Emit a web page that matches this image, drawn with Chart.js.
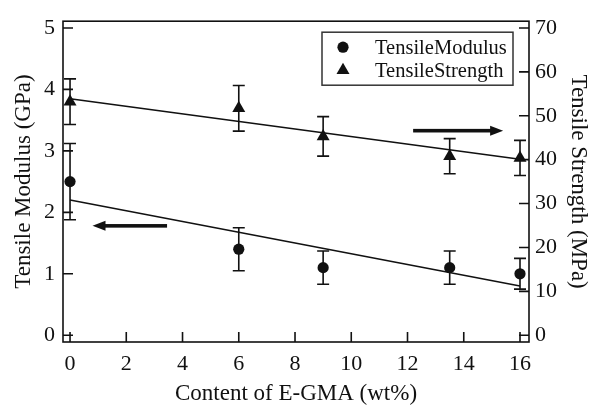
<!DOCTYPE html>
<html>
<head>
<meta charset="utf-8">
<script src="https://cdn.jsdelivr.net/npm/chart.js@4/dist/chart.umd.min.js"></script>
<style>
  html, body { margin: 0; padding: 0; background: #fff; }
  #chart { display: block; }
</style>
</head>
<body>
<canvas id="chart" width="590" height="405"></canvas>
<script>
// DATA

const egma = [0, 6, 9, 13.5, 16];                   // wt%
const modulus = [2.5, 1.4, 1.1, 1.1, 1.0];          // GPa
const modulusErr = [0.62, 0.35, 0.27, 0.27, 0.25];
const strength = [53.2, 51.7, 45.3, 40.8, 40.4];    // MPa
const strengthErr = [5.2, 5.2, 4.5, 4.0, 4.0];

const fitX = [0, 16];
const modulusFit = [2.2, 0.8];
const strengthFit = [53.9, 40.1];

const xTicks = [0, 2, 4, 6, 8, 10, 12, 14, 16];
const leftTicks = [0, 1, 2, 3, 4, 5];
const rightTicks = [0, 10, 20, 30, 40, 50, 60, 70];

// arrows pointing at the axis each series belongs to: [x0, x1, y]
const arrowLeft = [3.45, 0.8, 1.78];    // on GPa axis
const arrowRight = [12.2, 15.4, 46.6];  // on MPa axis


// STYLE

const INK = '#111';
const SERIF = "'Liberation Serif', 'Times New Roman', serif";
const tickFont = { family: SERIF, size: 22 };
const titleFont = { family: SERIF, size: 23, lineHeight: 1.2 };

const yRange = [-0.11, 5.11];
const MPA_PER_GPA = 14;

const pts = (xs, ys) => xs.map((x, i) => ({ x, y: ys[i] }));
const fixTicks = (vals) => (scale) => { scale.ticks = vals.map(v => ({ value: v })); };
const noGrid = { display: false, drawTicks: false };


// PLUGINS

const errorBars = {
    id: 'errorBars',
    beforeDatasetsDraw(chart) {
        const { ctx } = chart;
        const xs = chart.scales.x;
        ctx.save();
        ctx.strokeStyle = INK;
        ctx.lineWidth = 1.6;
        chart.data.datasets.forEach(ds => {
            if (!ds.errors) return;
            const ys = chart.scales[ds.yAxisID];
            ds.data.forEach((p, i) => {
                const px = xs.getPixelForValue(p.x);
                const top = ys.getPixelForValue(p.y + ds.errors[i]);
                const bot = ys.getPixelForValue(p.y - ds.errors[i]);
                ctx.beginPath();
                ctx.moveTo(px, top); ctx.lineTo(px, bot);
                ctx.moveTo(px - 6, top); ctx.lineTo(px + 6, top);
                ctx.moveTo(px - 6, bot); ctx.lineTo(px + 6, bot);
                ctx.stroke();
            });
        });
        ctx.restore();
    }
};

const frame = {
    id: 'frame',
    afterDraw(chart) {
        const { ctx, chartArea: a, scales } = chart;
        ctx.save();
        ctx.strokeStyle = INK;
        ctx.lineWidth = 1.6;
        ctx.strokeRect(a.left, a.top, a.right - a.left, a.bottom - a.top);

        // inward tick marks
        ctx.beginPath();
        xTicks.forEach(v => {
            const px = scales.x.getPixelForValue(v);
            ctx.moveTo(px, a.bottom); ctx.lineTo(px, a.bottom - 10);
        });
        leftTicks.forEach(v => {
            const py = scales.y.getPixelForValue(v);
            ctx.moveTo(a.left, py); ctx.lineTo(a.left + 10, py);
        });
        rightTicks.forEach(v => {
            const py = scales.y2.getPixelForValue(v);
            ctx.moveTo(a.right, py); ctx.lineTo(a.right - 10, py);
        });
        ctx.stroke();

        // arrows
        const arrow = (spec, axis) => {
            const x0 = scales.x.getPixelForValue(spec[0]);
            const x1 = scales.x.getPixelForValue(spec[1]);
            const y = scales[axis].getPixelForValue(spec[2]);
            const dir = Math.sign(x1 - x0);
            ctx.fillStyle = INK;
            ctx.fillRect(Math.min(x0, x1 - dir * 10), y - 1.8, Math.abs(x1 - dir * 10 - x0), 3.6);
            ctx.beginPath();
            ctx.moveTo(x1, y);
            ctx.lineTo(x1 - dir * 13, y - 5);
            ctx.lineTo(x1 - dir * 13, y + 5);
            ctx.closePath();
            ctx.fill();
        };
        arrow(arrowLeft, 'y');
        arrow(arrowRight, 'y2');

        // legend box
        const bx = a.left + 259, by = a.top + 11, bw = 191, bh = 53;
        ctx.fillStyle = '#fff';
        ctx.fillRect(bx, by, bw, bh);
        ctx.strokeStyle = '#333';
        ctx.lineWidth = 1.5;
        ctx.strokeRect(bx, by, bw, bh);

        const items = chart.data.datasets.filter(ds => ds.inLegend);
        ctx.font = `20.5px ${SERIF}`;
        ctx.textBaseline = 'middle';
        items.forEach((ds, i) => {
            const cx = bx + 21, cy = by + 15 + i * 23;
            ctx.fillStyle = INK;
            ctx.beginPath();
            if (ds.pointStyle === 'triangle') {
                const r = ds.pointRadius;
                ctx.moveTo(cx, cy - r);
                ctx.lineTo(cx + r * Math.sin(2 * Math.PI / 3), cy + r / 2);
                ctx.lineTo(cx - r * Math.sin(2 * Math.PI / 3), cy + r / 2);
                ctx.closePath();
            } else {
                ctx.arc(cx, cy, ds.pointRadius, 0, Math.PI * 2);
            }
            ctx.fill();
            ctx.fillText(ds.label, bx + 53, cy + 1);
        });
        ctx.restore();
    }
};


// CHART

new Chart(document.getElementById('chart'), {
    type: 'scatter',
    data: {
        datasets: [
            {
                label: 'TensileModulus', inLegend: true,
                data: pts(egma, modulus), errors: modulusErr, yAxisID: 'y',
                pointStyle: 'circle', pointRadius: 5.6,
                backgroundColor: INK, borderColor: INK, borderWidth: 0
            },
            {
                label: 'TensileStrength', inLegend: true,
                data: pts(egma, strength), errors: strengthErr, yAxisID: 'y2',
                pointStyle: 'triangle', pointRadius: 7.5,
                backgroundColor: INK, borderColor: INK, borderWidth: 0
            },
            {
                label: 'modulus fit', data: pts(fitX, modulusFit), yAxisID: 'y',
                showLine: true, pointRadius: 0, borderColor: INK, borderWidth: 1.5
            },
            {
                label: 'strength fit', data: pts(fitX, strengthFit), yAxisID: 'y2',
                showLine: true, pointRadius: 0, borderColor: INK, borderWidth: 1.5
            }
        ]
    },
    options: {
        responsive: false,
        devicePixelRatio: 1,
        animation: false,
        layout: { padding: { top: 14, left: 0, right: 0, bottom: 0 } },
        plugins: { legend: { display: false }, tooltip: { enabled: false } },
        elements: { point: { hoverRadius: 0 } },
        scales: {
            x: {
                type: 'linear', min: -0.25, max: 16.32,
                grid: noGrid, border: { display: false },
                ticks: { font: tickFont, color: INK, padding: 9, autoSkip: false, maxRotation: 0 },
                afterBuildTicks: fixTicks(xTicks),
                afterFit: s => { s.height = 63; },
                title: { display: true, text: 'Content of E-GMA (wt%)', font: titleFont, color: INK, padding: { top: 0, bottom: -3 } }
            },
            y: {
                type: 'linear', position: 'left', min: yRange[0], max: yRange[1],
                grid: noGrid, border: { display: false },
                ticks: { font: tickFont, color: INK, padding: 8, autoSkip: false },
                afterBuildTicks: fixTicks(leftTicks),
                afterFit: s => { s.width = 63; },
                title: { display: true, text: 'Tensile Modulus (GPa)', font: titleFont, color: INK, padding: { top: 10, bottom: 0 } }
            },
            y2: {
                type: 'linear', position: 'right',
                min: yRange[0] * MPA_PER_GPA, max: yRange[1] * MPA_PER_GPA,
                grid: noGrid, border: { display: false },
                ticks: { font: tickFont, color: INK, padding: 6, autoSkip: false },
                afterBuildTicks: fixTicks(rightTicks),
                afterFit: s => { s.width = 61; },
                title: { display: true, text: 'Tensile Strength (MPa)', font: titleFont, color: INK, padding: { top: -2, bottom: 0 } }
            }
        }
    },
    plugins: [errorBars, frame]
});
</script>
</body>
</html>
